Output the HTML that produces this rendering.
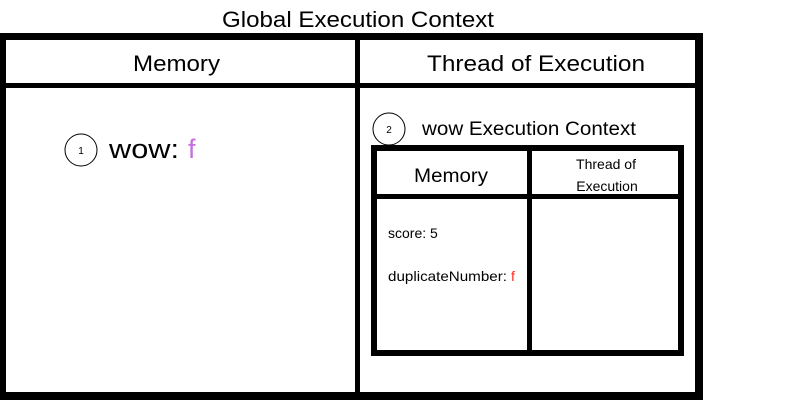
<!DOCTYPE html>
<html><head><style>
body{margin:0;background:#fff;}
svg{display:block}
text{font-family:"Liberation Sans",sans-serif;fill:#000}
</style></head><body>
<svg width="800" height="400" viewBox="0 0 800 400">
<rect x="0" y="0" width="800" height="400" fill="#fff"/>
<text x="222" y="27" font-size="22" textLength="272" lengthAdjust="spacingAndGlyphs">Global Execution Context</text>
<rect x="0" y="33" width="703" height="7" fill="#000"/>
<rect x="0" y="33" width="6" height="367" fill="#000"/>
<rect x="695" y="33" width="8" height="367" fill="#000"/>
<rect x="0" y="392" width="703" height="8" fill="#000"/>
<rect x="0" y="83" width="703" height="5" fill="#000"/>
<rect x="355" y="33" width="5" height="367" fill="#000"/>
<text x="133" y="71" font-size="22" textLength="87" lengthAdjust="spacingAndGlyphs">Memory</text>
<text x="427" y="71" font-size="22" textLength="218" lengthAdjust="spacingAndGlyphs">Thread of Execution</text>
<circle cx="81" cy="150" r="16" fill="none" stroke="#000" stroke-width="1"/>
<text x="81" y="154" font-size="10" text-anchor="middle">1</text>
<text x="109" y="158" font-size="27" textLength="70" lengthAdjust="spacingAndGlyphs">wow:</text>
<text x="188" y="158" font-size="27" style="fill:#c86de0">f</text>
<circle cx="389" cy="129" r="16" fill="none" stroke="#000" stroke-width="1"/>
<text x="389" y="133" font-size="10" text-anchor="middle">2</text>
<text x="422" y="135" font-size="19" textLength="214" lengthAdjust="spacingAndGlyphs">wow Execution Context</text>
<rect x="371" y="145" width="313" height="6" fill="#000"/>
<rect x="371" y="145" width="6" height="211" fill="#000"/>
<rect x="678" y="145" width="6" height="211" fill="#000"/>
<rect x="371" y="350" width="313" height="6" fill="#000"/>
<rect x="371" y="194" width="313" height="5" fill="#000"/>
<rect x="527" y="145" width="5" height="211" fill="#000"/>
<text x="414" y="182" font-size="19" textLength="74" lengthAdjust="spacingAndGlyphs">Memory</text>
<text x="606" y="169" font-size="14" text-anchor="middle">Thread of</text>
<text x="607" y="191" font-size="14" text-anchor="middle">Execution</text>
<text x="388" y="238" font-size="14">score: 5</text>
<text x="388" y="281" font-size="14" textLength="119" lengthAdjust="spacingAndGlyphs">duplicateNumber:</text>
<text x="511" y="281" font-size="14" style="fill:#ff2a2a">f</text>
</svg>
</body></html>
